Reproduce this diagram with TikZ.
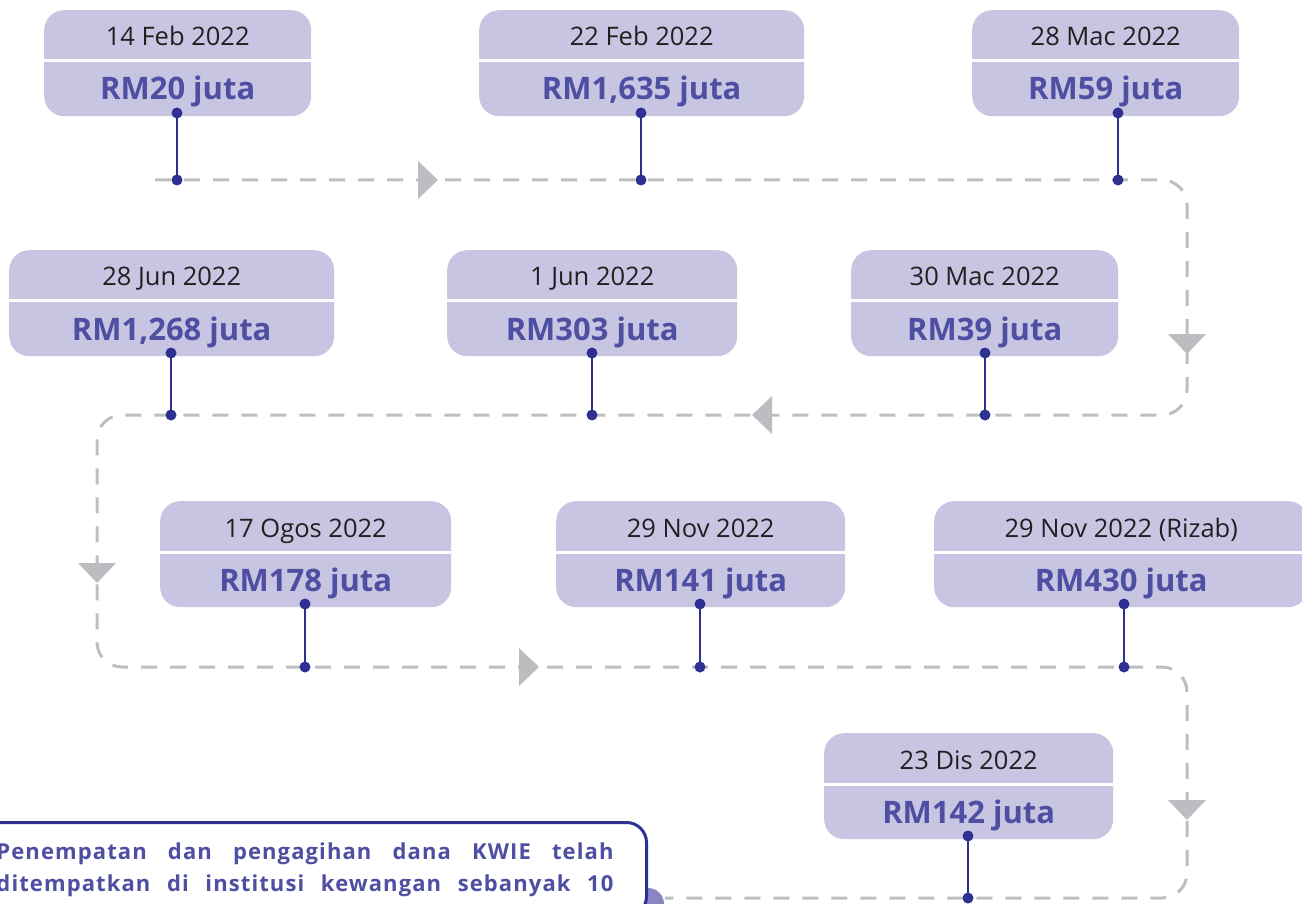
\documentclass[tikz,border=0pt]{standalone}
\usepackage{fontspec}
\setmainfont{Open Sans}
\usepackage{tikz}
\definecolor{boxlilac}{RGB}{200,197,226}
\definecolor{amtblue}{RGB}{78,78,162}
\definecolor{stemnavy}{RGB}{46,49,146}
\definecolor{dashgray}{RGB}{190,190,193}
\definecolor{tipgray}{RGB}{188,189,192}
\definecolor{dotpurple}{RGB}{138,134,194}
\definecolor{datetext}{RGB}{35,31,32}

\tikzset{
  datebox/.style={fill=boxlilac, rounded corners=20pt, inner sep=0pt, anchor=north west},
  datelabel/.style={text=datetext, font=\fontsize{25.5}{29}\selectfont, inner sep=0pt, anchor=base},
  amtlabel/.style={text=amtblue, font=\fontsize{31}{35}\selectfont\bfseries, inner sep=0pt, anchor=base},
  stem/.style={stemnavy, line width=2.8pt},
  timeline/.style={dashgray, line width=3pt, dash pattern=on 16pt off 13pt, rounded corners=25pt},
  flowtip/.style={fill=tipgray},
  notebox/.style={draw=stemnavy, line width=3pt, fill=white, rounded corners=20pt,
    text=amtblue, font=\fontsize{22}{32}\selectfont\bfseries\addfontfeatures{LetterSpace=5}}
}

\begin{document}
\begin{tikzpicture}[x=1pt, y=-1pt]
    \useasboundingbox (0,0) rectangle (1302,904);
    \clip (0,0) rectangle (1302,904);

    % Draw the dashed timeline
    \draw[timeline] (155,180) -| (1187,415) -| (97,667) -| (1187,898) -- (665,898);

    % Draw the direction triangles
    \foreach \tx/\ty/\rot in {428/180/0, 1187/344/-90, 762/415/180, 97/573/-90, 529/667/0, 1187/810/-90}
        \fill[flowtip, shift={(\tx,\ty)}, rotate=\rot] (-10,-19) -- (10,0) -- (-10,19) -- cycle;

    % Draw the boxes and their stems
    \foreach \n/\xa/\xb/\ya/\lx/\ly/\dt/\amt in {
        feb14/44/311/10/177/180/{14 Feb 2022}/{RM20 juta},
        feb22/479/804/10/641/180/{22 Feb 2022}/{RM1,635 juta},
        mac28/972/1239/10/1118/180/{28 Mac 2022}/{RM59 juta},
        jun28/9/334/250/171/415/{28 Jun 2022}/{RM1,268 juta},
        jun1/447/737/250/592/415/{1 Jun 2022}/{RM303 juta},
        mac30/851/1118/250/985/415/{30 Mac 2022}/{RM39 juta},
        ogos17/160/451/501/305/667/{17 Ogos 2022}/{RM178 juta},
        nov29/556/845/501/700/667/{29 Nov 2022}/{RM141 juta},
        rizab/934/1308/501/1124/667/{29 Nov 2022 (Rizab)}/{RM430 juta},
        dis23/824/1113/733/968/898/{23 Dis 2022}/{RM142 juta}}
    {
        \pgfmathsetmacro{\w}{\xb-\xa}
        \node[datebox, minimum width=\w pt, minimum height=106pt] (\n) at (\xa,\ya) {};
        \draw[white, line width=3pt] ([yshift=-51pt]\n.north west) -- ([yshift=-51pt]\n.north east);
        \node[datelabel] (\n-date) at ([yshift=-36pt]\n.north) {\dt};
        \node[amtlabel] (\n-amt) at ([yshift=-90pt]\n.north) {\amt};
        \coordinate (\n-top) at (\lx,\ya+103);
        \coordinate (\n-bot) at (\lx,\ly);
        \draw[stem] (\n-top) -- (\n-bot);
        \fill[stemnavy] (\n-top) circle (5.5pt) (\n-bot) circle (5.5pt);
    }

    % Draw the note at the bottom left
    \fill[dotpurple] (648,904) circle (16pt);
    \node[notebox, anchor=north east, text width=617pt, align=justify, inner xsep=33pt,
        inner ysep=20pt] (note) at (648,821)
        {\parfillskip=0pt Penempatan dan pengagihan dana KWIE telah\linebreak
        ditempatkan di institusi kewangan sebanyak 10\par};
\end{tikzpicture}
\end{document}
